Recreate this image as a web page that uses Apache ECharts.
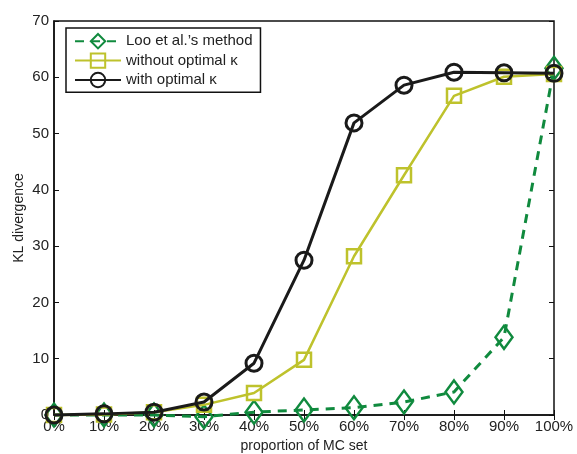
<!DOCTYPE html>
<html><head><meta charset="utf-8">
<script src="https://cdn.jsdelivr.net/npm/echarts@6/dist/echarts.min.js"></script>
<style>html,body{margin:0;padding:0;background:#fff}#c{width:577px;height:454px}</style>
</head><body><div id="c"></div>
<script>
const categories = ['0%','10%','20%','30%','40%','50%','60%','70%','80%','90%','100%'];
const looMethod = [0, 0, 0, -0.3, 0.5, 0.9, 1.3, 2.3, 4.1, 13.8, 61.6];
const withoutOptimal = [0, 0.1, 0.5, 1.8, 3.9, 9.8, 28.2, 42.6, 56.7, 60.1, 60.6];
const withOptimal = [0, 0.2, 0.5, 2.3, 9.2, 27.5, 51.9, 58.6, 60.9, 60.8, 60.7];
const seriesNames = ['Loo et al.\u2019s method', 'without optimal \u03ba', 'with optimal \u03ba'];
const yTicks = [0, 10, 20, 30, 40, 50, 60, 70];

const FONT = 'Liberation Sans';
const GREEN = '#108a3e', OLIVE = '#bec22c', BLACK = '#1a1a1a';
const chart = echarts.init(document.getElementById('c'));
const tickStyle = {show: true, inside: true, length: 5, lineStyle: {color: '#111', width: 1}};
chart.setOption({
  animation: false,
  textStyle: {fontFamily: FONT},
  grid: {left: 54, right: 23, top: 21, bottom: 39, show: true, borderColor: '#111', borderWidth: 1.5,
    backgroundColor: 'transparent', containLabel: false, outerBoundsMode: 'none'},
  legend: {
    left: 66, top: 28, orient: 'vertical', itemGap: 3, itemWidth: 46, itemHeight: 18,
    backgroundColor: '#fff', borderColor: '#111', borderWidth: 1.5, padding: [5, 8, 4, 8],
    textStyle: {fontFamily: FONT, fontSize: 15, color: '#222', padding: [0, 0, 0, 0]},
    data: seriesNames
  },
  xAxis: [{
    type: 'category', data: categories, boundaryGap: false,
    axisLine: {show: true, lineStyle: {color: '#111', width: 1.5}},
    axisTick: tickStyle, splitLine: {show: false},
    axisLabel: {color: '#222', fontSize: 15, margin: 4, fontFamily: FONT},
    name: 'proportion of MC set', nameLocation: 'middle', nameGap: 24,
    nameTextStyle: {color: '#222', fontSize: 14, fontFamily: FONT}
  }, {
    type: 'category', data: categories, boundaryGap: false, position: 'top',
    axisLine: {show: false}, axisTick: tickStyle, axisLabel: {show: false}
  }],
  yAxis: [{
    type: 'value', min: 0, max: 70, interval: 10,
    axisLine: {show: true, lineStyle: {color: '#111', width: 1.5}},
    axisTick: tickStyle, splitLine: {show: false},
    axisLabel: {color: '#222', fontSize: 15, margin: 5, fontFamily: FONT,
      formatter: v => yTicks.includes(v) ? String(v) : ''},
    name: 'KL divergence', nameLocation: 'middle', nameGap: 28, nameMoveOverlap: false,
    nameTextStyle: {color: '#222', fontSize: 14, fontFamily: FONT}
  }, {
    type: 'value', min: 0, max: 70, interval: 10, position: 'right',
    axisLine: {show: false}, axisTick: tickStyle, axisLabel: {show: false}, splitLine: {show: false}
  }],
  series: [{
    name: seriesNames[0], type: 'line', data: looMethod, clip: false, z: 2,
    symbol: 'diamond', symbolSize: [17, 23],
    lineStyle: {color: GREEN, width: 3, type: [9, 7]},
    itemStyle: {color: 'rgba(255,255,255,0)', borderColor: GREEN, borderWidth: 2.5}
  }, {
    name: seriesNames[1], type: 'line', data: withoutOptimal, clip: false, z: 3,
    symbol: 'rect', symbolSize: 14,
    lineStyle: {color: OLIVE, width: 2.5},
    itemStyle: {color: 'rgba(255,255,255,0)', borderColor: OLIVE, borderWidth: 2.5}
  }, {
    name: seriesNames[2], type: 'line', data: withOptimal, clip: false, z: 4,
    symbol: 'circle', symbolSize: 16,
    lineStyle: {color: BLACK, width: 3},
    itemStyle: {color: 'rgba(255,255,255,0)', borderColor: BLACK, borderWidth: 3}
  }]
});
</script></body></html>
